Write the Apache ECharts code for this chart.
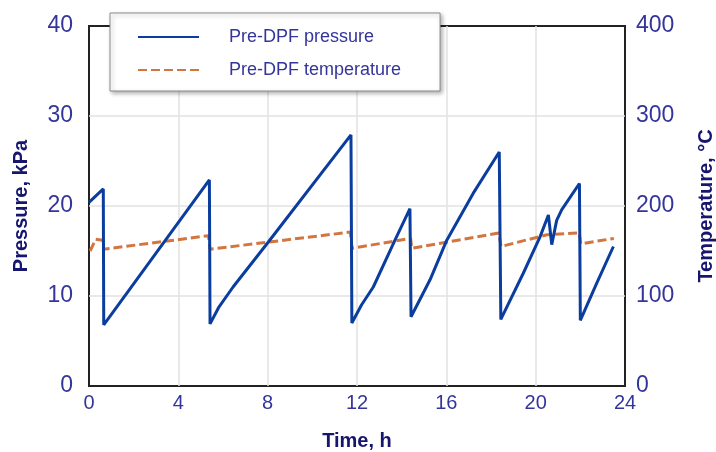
<!DOCTYPE html>
<html>
<head>
<meta charset="utf-8">
<script src="https://cdn.jsdelivr.net/npm/echarts@6/dist/echarts.min.js"></script>
<style>
  html, body { margin: 0; padding: 0; background: #fff; }
  #chart-box { width: 716px; height: 452px; }
</style>
</head>
<body>
<div id="chart-box"></div>
<script>
// pressure, kPa vs time, h
const pressureTime = [0, 0.64, 0.66, 5.39, 5.42, 5.8, 6.45, 8.03, 11.73, 11.77, 12.2, 12.73, 13.7, 14.37, 14.42, 15.27, 16.02, 17.2, 18.37, 18.44, 19.44, 20.2, 20.57, 20.72, 20.94, 21.17, 21.96, 22.0, 22.73, 23.48]
const pressureValues = [20.4, 21.9, 6.8, 22.9, 6.9, 8.7, 11.0, 16.0, 27.9, 7.0, 9.0, 11.0, 16.2, 19.7, 7.7, 11.8, 16.2, 21.4, 26.0, 7.4, 12.5, 16.6, 19.0, 15.7, 18.4, 19.6, 22.5, 7.3, 11.4, 15.5]
// temperature, °C vs time, h
const tempTime = [0.05, 0.3, 0.62, 0.66, 5.35, 5.42, 11.7, 11.78, 14.4, 14.45, 18.35, 18.45, 20.5, 21.95, 22.02, 23.5]
const tempValues = [150, 163, 162, 152, 167, 152, 171, 153, 164, 153, 170, 155, 168, 170, 158, 164]
const timeTicks = { min: 0, max: 24, interval: 4 }
const pressureTicks = { min: 0, max: 40, interval: 10 }
const tempTicks = { min: 0, max: 400, interval: 100 }

const labelColor = '#34359a'
const nameColor = '#16166e'
const font = 'Liberation Sans, Arial, sans-serif'

const zip = (xs, ys) => xs.map((x, i) => [x, ys[i]])

var myChart = echarts.init(document.getElementById('chart-box'))
myChart.setOption({
  animation: false,
  textStyle: { fontFamily: font },
  grid: {
    left: 89, right: 91, top: 26, bottom: 66,
    outerBoundsMode: 'none',
    containLabel: false,
    show: true, borderColor: '#222', borderWidth: 2, backgroundColor: '#fff'
  },
  legend: {
    orient: 'vertical',
    left: 110, top: 13,
    padding: [15, 39, 12, 27],
    itemWidth: 61, itemHeight: 14, itemGap: 15,
    backgroundColor: '#fff',
    borderColor: '#8a8a8a', borderWidth: 1,
    shadowColor: 'rgba(0,0,0,0.3)', shadowBlur: 4, shadowOffsetX: 2, shadowOffsetY: 2,
    itemStyle: { opacity: 0 },
    textStyle: { color: labelColor, fontSize: 18, fontFamily: font, padding: [0, 0, 0, 25] },
    data: ['Pre-DPF pressure', 'Pre-DPF temperature']
  },
  xAxis: {
    type: 'value',
    ...timeTicks,
    name: 'Time, h',
    nameLocation: 'middle',
    nameGap: 45,
    nameTextStyle: { color: nameColor, fontWeight: 'bold', fontSize: 20, fontFamily: font },
    axisLine: { show: false },
    axisTick: { show: false },
    axisLabel: { color: labelColor, fontSize: 20, margin: 7 },
    splitLine: { show: true, showMinLine: false, showMaxLine: false, lineStyle: { color: '#e2e2e2', width: 1.5 } }
  },
  yAxis: [
    {
      type: 'value',
      ...pressureTicks,
      name: 'Pressure, kPa',
      nameLocation: 'middle',
      nameGap: 58,
      nameTextStyle: { color: nameColor, fontWeight: 'bold', fontSize: 20, fontFamily: font },
      axisLine: { show: false },
      axisTick: { show: false },
      axisLabel: { color: labelColor, fontSize: 23, margin: 16 },
      splitLine: { show: true, showMinLine: false, showMaxLine: false, lineStyle: { color: '#e2e2e2', width: 1.5 } }
    },
    {
      type: 'value',
      ...tempTicks,
      position: 'right',
      name: 'Temperature, °C',
      nameLocation: 'middle',
      nameGap: 71,
      nameTextStyle: { color: nameColor, fontWeight: 'bold', fontSize: 20, fontFamily: font },
      axisLine: { show: false },
      axisTick: { show: false },
      axisLabel: { color: labelColor, fontSize: 23, margin: 11 },
      splitLine: { show: false }
    }
  ],
  series: [
    {
      name: 'Pre-DPF temperature',
      type: 'line',
      yAxisIndex: 1,
      symbol: 'none',
      data: zip(tempTime, tempValues),
      lineStyle: { color: '#d2753f', width: 3, type: [9, 4] },
      itemStyle: { color: '#d2753f' }
    },
    {
      name: 'Pre-DPF pressure',
      type: 'line',
      yAxisIndex: 0,
      symbol: 'none',
      data: zip(pressureTime, pressureValues),
      lineStyle: { color: '#0b3d9f', width: 3 },
      itemStyle: { color: '#0b3d9f' }
    }
  ]
})
</script>
</body>
</html>
